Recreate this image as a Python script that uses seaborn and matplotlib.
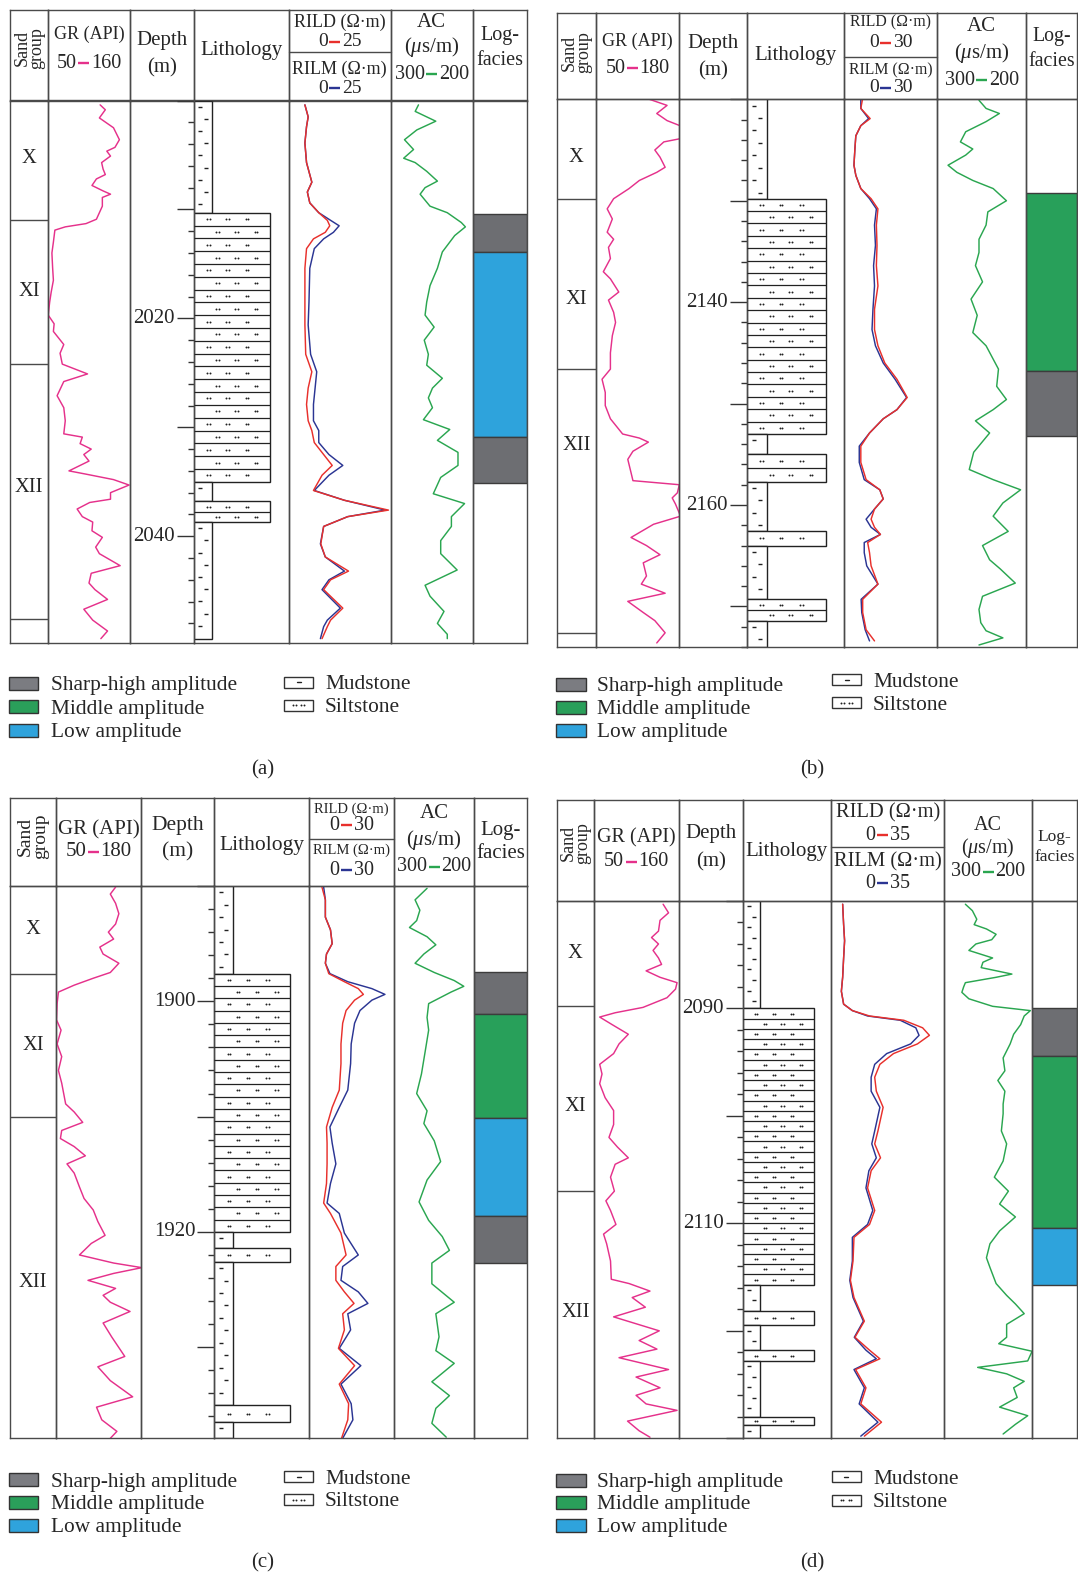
import numpy as np
import pandas as pd
import matplotlib
matplotlib.use("Agg")
import matplotlib.pyplot as plt
from matplotlib.patches import Rectangle
import seaborn as sns

# ============================ DATA ============================
FACIES_NAMES = ["Sharp-high amplitude", "Middle amplitude", "Low amplitude"]
LITH_NAMES = ["Mudstone", "Siltstone"]
SAND_NAMES = ["X", "XI", "XII"]
PANEL_TAGS = ["(a)", "(b)", "(c)", "(d)"]

# ---------- panel (a) ----------
a_depth_range = (2000.0, 2049.8)
a_gr_range = (50, 160)
a_res_range = (0, 25)
a_ac_range = (300, 200)
a_depth_labels = [2020, 2040]
a_sand_bounds = [2011.0, 2024.2, 2047.6]
a_sand_label_depth = [2005.3, 2017.5, 2035.5]
a_lith_top = [2000.0, 2010.3, 2035.0, 2036.8, 2038.7]
a_lith_base = [2010.3, 2035.0, 2036.8, 2038.7, 2049.4]
a_lith_type = ["Mudstone", "Siltstone", "Mudstone", "Siltstone", "Mudstone"]
a_fac_top = [2010.4, 2013.9, 2030.9]
a_fac_base = [2013.9, 2030.9, 2035.1]
a_fac_type = ["Sharp-high amplitude", "Low amplitude", "Sharp-high amplitude"]
a_gr_depth = [2000.4, 2000.85, 2001.6, 2002.5, 2003.6, 2004.3, 2004.65, 2005.1, 2005.7, 2006.3,
              2006.8, 2007.2, 2007.8, 2008.3, 2008.6, 2008.9, 2009.7, 2010.9, 2011.3, 2011.6,
              2011.9, 2013.0, 2014.0, 2015.4, 2016.5, 2017.6, 2018.5, 2019.7, 2020.5, 2021.2,
              2022.4, 2023.2, 2024.2, 2025.1, 2025.8, 2027.1, 2028.2, 2029.4, 2030.6, 2030.9,
              2031.5, 2032.0, 2032.5, 2033.1, 2034.0, 2034.3, 2034.8, 2035.3, 2036.0, 2036.6,
              2036.9, 2037.5, 2038.2, 2038.7, 2039.5, 2040.1, 2041.0, 2041.6, 2042.7, 2043.4,
              2044.3, 2044.9, 2045.8, 2046.7, 2047.7, 2048.7, 2049.4]
a_gr = [120, 127, 119, 138, 146, 140, 129, 134, 122, 124,
        127, 115, 109, 124, 134, 123, 123, 115, 101, 73,
        59, 57, 55, 56, 57, 54, 52, 50, 58, 57,
        71, 66, 69, 103, 71, 62, 71, 73, 71, 96,
        93, 108, 98, 105, 78, 101, 138, 159, 134, 134,
        106, 89, 96, 110, 109, 123, 114, 119, 147, 108,
        105, 113, 130, 98, 110, 130, 121]
a_res_depth = [2000.4, 2001.5, 2002.4, 2003.9, 2005.7, 2007.5, 2008.4, 2009.4, 2010.3, 2011.0,
               2011.5, 2012.1, 2012.7, 2013.6, 2015.4, 2018.5, 2020.6, 2023.3, 2024.9, 2026.4,
               2027.9, 2029.4, 2030.3, 2031.4, 2032.5, 2033.5, 2034.4, 2035.8, 2036.7, 2037.6,
               2038.2, 2039.1, 2040.7, 2041.9, 2043.2, 2044.0, 2044.9, 2046.6, 2047.7, 2048.3, 2049.4]
a_rild = [4.0, 4.8, 4.4, 4.0, 4.4, 5.7, 4.6, 5.2, 7.4, 9.5,
          10.1, 9.0, 6.1, 4.4, 4.0, 4.0, 4.0, 4.2, 5.7, 4.8,
          4.4, 4.8, 5.7, 6.3, 8.6, 10.7, 8.2, 6.1, 13.7, 24.5,
          14.5, 8.6, 7.9, 9.0, 14.7, 10.3, 8.6, 13.3, 10.3, 9.5, 8.2]
a_rilm = [4.0, 4.8, 4.4, 4.0, 4.4, 5.7, 4.6, 5.2, 7.4, 10.3,
          12.4, 11.0, 8.6, 6.3, 5.2, 5.0, 4.8, 5.4, 6.9, 6.5,
          6.1, 6.1, 7.4, 7.4, 9.9, 13.3, 9.9, 6.3, 13.7, 23.7,
          14.5, 8.6, 7.8, 9.0, 13.7, 9.9, 8.2, 12.7, 9.5, 8.6, 7.8]
a_ac_depth = [2000.4, 2001.0, 2001.9, 2002.7, 2003.6, 2004.5, 2005.3, 2005.7, 2006.5, 2007.4,
              2008.0, 2008.6, 2009.7, 2010.3, 2011.2, 2011.6, 2012.4, 2013.9, 2015.4, 2017.0,
              2018.5, 2019.7, 2020.8, 2022.0, 2023.3, 2024.3, 2025.5, 2026.4, 2027.3, 2028.2,
              2029.3, 2030.2, 2031.2, 2032.3, 2033.5, 2034.6, 2036.1, 2037.0, 2038.2, 2039.1,
              2040.4, 2041.6, 2043.1, 2044.5, 2045.5, 2046.9, 2048.0, 2049.0, 2049.4]
a_ac = [266, 270, 245, 268, 283, 272, 284, 270, 256, 243,
        258, 264, 252, 231, 214, 209, 222, 237, 243, 252,
        256, 258, 247, 259, 254, 256, 237, 249, 254, 249,
        260, 228, 243, 218, 218, 239, 248, 210, 226, 226,
        239, 239, 219, 258, 252, 235, 243, 231, 231]

# ---------- panel (b) ----------
b_depth_range = (2120.0, 2174.0)
b_gr_range = (50, 180)
b_res_range = (0, 30)
b_ac_range = (300, 200)
b_depth_labels = [2140, 2160]
b_sand_bounds = [2129.8, 2146.6, 2172.6]
b_sand_label_depth = [2125.7, 2139.7, 2154.1]
b_lith_top = [2120.0, 2129.8, 2153.0, 2155.0, 2157.7, 2162.6, 2164.0, 2169.3, 2171.4]
b_lith_base = [2129.8, 2153.0, 2155.0, 2157.7, 2162.6, 2164.0, 2169.3, 2171.4, 2174.0]
b_lith_type = ["Mudstone", "Siltstone", "Mudstone", "Siltstone", "Mudstone",
               "Siltstone", "Mudstone", "Siltstone", "Mudstone"]
b_fac_top = [2129.2, 2146.8]
b_fac_base = [2146.8, 2153.2]
b_fac_type = ["Middle amplitude", "Sharp-high amplitude"]
b_gr_depth = [2119.9, 2120.6, 2121.4, 2122.1, 2122.6, 2123.2, 2123.9, 2124.2, 2125.0, 2125.7,
              2126.7, 2127.2, 2128.0, 2128.8, 2129.8, 2130.8, 2131.8, 2133.1, 2133.8, 2134.6,
              2135.7, 2137.0, 2137.7, 2139.0, 2139.8, 2141.0, 2142.0, 2143.3, 2145.0, 2146.6,
              2147.6, 2148.9, 2150.2, 2151.5, 2153.0, 2153.4, 2153.8, 2154.7, 2155.5, 2156.8,
              2157.6, 2158.0, 2158.8, 2159.3, 2159.9, 2161.1, 2161.9, 2163.2, 2164.0, 2164.9,
              2165.7, 2167.0, 2167.8, 2168.7, 2169.5, 2170.6, 2171.4, 2172.6, 2173.6]
b_gr = [129, 161, 145, 161, 181, 192, 180, 156, 142, 150,
        158, 145, 118, 102, 78, 68, 76, 68, 78, 70,
        73, 62, 73, 86, 70, 78, 81, 76, 73, 73,
        60, 65, 65, 73, 92, 118, 132, 108, 100, 105,
        108, 180, 177, 169, 174, 182, 140, 105, 129, 150,
        124, 129, 121, 158, 100, 124, 142, 158, 145]
b_res_depth = [2119.9, 2120.9, 2121.9, 2122.6, 2123.6, 2124.9, 2126.5, 2127.5, 2128.8, 2129.8,
               2130.8, 2132.4, 2134.4, 2136.4, 2138.4, 2140.7, 2142.7, 2144.3, 2146.0, 2147.6,
               2149.4, 2150.6, 2151.5, 2152.9, 2154.2, 2155.8, 2157.5, 2158.5, 2159.4, 2160.4,
               2161.4, 2162.2, 2162.9, 2163.7, 2164.7, 2166.0, 2167.8, 2169.3, 2170.6, 2172.3, 2173.4]
b_rild = [6.0, 5.4, 8.4, 5.4, 3.8, 3.5, 3.2, 3.8, 5.4, 8.7,
          10.9, 10.4, 10.6, 10.4, 10.9, 9.8, 9.8, 10.9, 13.1, 17.0,
          20.3, 17.0, 12.6, 8.2, 5.4, 5.4, 7.1, 11.5, 12.6, 9.8,
          8.7, 9.8, 11.7, 7.6, 8.2, 8.7, 10.9, 6.0, 6.0, 7.1, 9.8]
b_rilm = [5.4, 5.4, 7.9, 5.4, 3.8, 3.5, 3.2, 3.8, 5.4, 8.2,
          10.4, 9.8, 10.1, 9.5, 9.8, 9.3, 9.0, 10.1, 12.6, 16.4,
          20.1, 17.0, 12.6, 8.2, 4.9, 4.9, 6.5, 11.5, 12.6, 9.8,
          7.1, 8.7, 11.7, 6.5, 6.5, 7.3, 10.9, 5.5, 5.7, 6.8, 8.2]
b_ac_depth = [2120.1, 2120.9, 2121.4, 2122.2, 2123.2, 2124.2, 2124.9, 2125.5, 2126.5, 2127.2,
              2128.0, 2128.8, 2130.0, 2131.1, 2132.4, 2133.8, 2135.1, 2136.4, 2138.0, 2139.7,
              2141.3, 2143.0, 2144.3, 2146.6, 2148.3, 2149.6, 2150.6, 2151.7, 2152.9, 2154.8,
              2156.5, 2157.5, 2158.5, 2159.8, 2161.1, 2162.6, 2164.0, 2165.4, 2166.3, 2167.7,
              2169.0, 2170.3, 2171.6, 2172.4, 2173.1, 2173.8]
b_ac = [253, 245, 230, 245, 268, 274, 260, 268, 288, 278,
        260, 237, 222, 243, 245, 253, 253, 257, 249, 262,
        255, 260, 245, 231, 233, 222, 237, 257, 241, 259,
        264, 237, 206, 226, 237, 220, 249, 241, 229, 212,
        249, 253, 251, 245, 226, 253]

# ---------- panel (c) ----------
c_depth_range = (1890.0, 1937.9)
c_gr_range = (50, 180)
c_res_range = (0, 30)
c_ac_range = (300, 200)
c_depth_labels = [1900, 1920]
c_sand_bounds = [1897.6, 1910.0]
c_sand_label_depth = [1893.8, 1903.8, 1924.4]
c_lith_top = [1890.0, 1897.6, 1920.0, 1921.4, 1922.6, 1935.0, 1936.5]
c_lith_base = [1897.6, 1920.0, 1921.4, 1922.6, 1935.0, 1936.5, 1937.9]
c_lith_type = ["Mudstone", "Siltstone", "Mudstone", "Siltstone", "Mudstone", "Siltstone", "Mudstone"]
c_fac_top = [1897.5, 1901.1, 1910.1, 1918.6]
c_fac_base = [1901.1, 1910.1, 1918.6, 1922.7]
c_fac_type = ["Sharp-high amplitude", "Middle amplitude", "Low amplitude", "Sharp-high amplitude"]
c_gr_depth = [1890.1, 1890.7, 1891.5, 1892.4, 1893.3, 1894.0, 1894.6, 1895.3, 1895.9, 1896.7,
              1897.5, 1898.0, 1898.6, 1899.2, 1900.2, 1901.6, 1902.5, 1903.7, 1904.8, 1906.0,
              1907.1, 1908.9, 1909.6, 1910.5, 1911.2, 1911.9, 1912.6, 1913.4, 1914.1, 1914.9,
              1916.1, 1917.1, 1918.1, 1919.1, 1920.3, 1921.0, 1922.0, 1922.7, 1923.1, 1923.6,
              1924.2, 1924.9, 1925.5, 1926.1, 1926.9, 1927.9, 1929.1, 1930.8, 1931.7, 1932.9,
              1934.3, 1935.2, 1936.3, 1937.3, 1937.9]
c_gr = [141, 133, 141, 146, 141, 130, 138, 117, 122, 146,
        133, 107, 78, 54, 52, 51, 58, 52, 59, 54,
        59, 65, 78, 91, 59, 57, 78, 95, 67, 78,
        86, 93, 107, 114, 125, 104, 86, 138, 181, 138,
        99, 141, 122, 133, 163, 122, 135, 155, 114, 133,
        167, 112, 120, 143, 133]
c_res_depth = [1890.1, 1891.2, 1892.7, 1893.8, 1895.0, 1895.9, 1896.7, 1897.6, 1898.3, 1898.9,
               1899.4, 1899.9, 1900.8, 1901.9, 1903.7, 1905.4, 1907.7, 1909.2, 1910.9, 1912.3,
               1914.1, 1915.8, 1917.5, 1918.4, 1920.1, 1922.0, 1923.0, 1924.2, 1925.2, 1926.2,
               1927.1, 1928.5, 1930.1, 1931.6, 1933.2, 1934.9, 1936.3, 1937.9]
c_rild = [4.5, 5.7, 5.7, 7.5, 8.1, 6.1, 5.7, 6.9, 12.4, 17.3,
          19.1, 16.0, 13.0, 11.8, 11.2, 11.2, 10.6, 8.1, 6.1, 6.3,
          6.3, 6.1, 5.1, 7.5, 11.2, 13.0, 9.4, 9.4, 12.4, 15.8,
          11.8, 12.4, 10.3, 16.0, 10.6, 13.9, 13.6, 11.4]
c_rilm = [5.1, 5.7, 5.7, 7.5, 8.1, 6.1, 5.7, 7.3, 13.6, 22.1,
          26.7, 22.1, 17.9, 16.0, 14.8, 14.6, 13.6, 10.6, 7.3, 8.1,
          9.4, 7.5, 6.3, 10.6, 12.4, 17.3, 11.8, 11.2, 17.3, 20.7,
          13.6, 14.6, 10.6, 18.2, 11.2, 14.8, 15.4, 11.8]
c_ac_depth = [1890.2, 1891.2, 1892.1, 1893.0, 1893.6, 1894.4, 1895.1, 1895.9, 1896.7, 1897.5,
              1898.2, 1898.7, 1899.2, 1900.2, 1901.4, 1902.5, 1904.2, 1906.3, 1908.0, 1909.5,
              1910.6, 1912.1, 1913.9, 1915.5, 1917.4, 1919.0, 1920.4, 1921.6, 1922.7, 1924.5,
              1926.1, 1927.1, 1929.1, 1930.3, 1931.4, 1933.0, 1934.2, 1935.3, 1936.6, 1937.8]
c_ac = [259, 274, 268, 272, 281, 259, 248, 263, 274, 250,
        225, 213, 229, 257, 259, 257, 261, 266, 272, 259,
        263, 250, 242, 259, 269, 257, 240, 231, 253, 253,
        225, 248, 244, 248, 225, 253, 231, 248, 253, 235]

# ---------- panel (d) ----------
d_depth_range = (2080.0, 2130.0)
d_gr_range = (50, 160)
d_res_range = (0, 35)
d_ac_range = (300, 200)
d_depth_labels = [2090, 2110]
d_sand_bounds = [2089.8, 2107.0]
d_sand_label_depth = [2084.9, 2099.1, 2118.3]
d_lith_top = [2080.0, 2090.0, 2115.7, 2118.2, 2119.5, 2121.8, 2122.8, 2128.0, 2128.8]
d_lith_base = [2090.0, 2115.7, 2118.2, 2119.5, 2121.8, 2122.8, 2128.0, 2128.8, 2130.0]
d_lith_type = ["Mudstone", "Siltstone", "Mudstone", "Siltstone", "Mudstone",
               "Siltstone", "Mudstone", "Siltstone", "Mudstone"]
d_fac_top = [2090.0, 2094.4, 2110.4]
d_fac_base = [2094.4, 2110.4, 2115.7]
d_fac_type = ["Sharp-high amplitude", "Middle amplitude", "Low amplitude"]
d_gr_depth = [2080.3, 2081.1, 2081.8, 2082.8, 2083.4, 2084.0, 2084.6, 2085.3, 2085.9, 2086.5,
              2087.1, 2087.6, 2088.2, 2089.0, 2089.9, 2090.4, 2090.8, 2091.5, 2092.4, 2093.3,
              2094.2, 2095.2, 2096.1, 2097.0, 2098.3, 2099.5, 2100.8, 2102.0, 2102.9, 2103.9,
              2104.5, 2105.7, 2107.0, 2107.9, 2108.8, 2110.1, 2111.0, 2111.9, 2113.5, 2115.2,
              2115.6, 2116.3, 2116.9, 2117.8, 2118.7, 2120.0, 2120.9, 2121.7, 2122.5, 2123.6,
              2124.3, 2125.3, 2126.0, 2126.8, 2127.4, 2128.4, 2129.3, 2129.9]
d_gr = [140, 147, 136, 134, 125, 134, 127, 134, 138, 118,
        136, 158, 156, 145, 114, 78, 58, 74, 95, 83,
        76, 58, 61, 58, 65, 76, 76, 70, 81, 95,
        78, 72, 77, 66, 72, 79, 63, 67, 72, 73,
        96, 123, 100, 117, 76, 135, 109, 132, 83, 147,
        105, 136, 105, 118, 158, 94, 109, 123]
d_res_depth = [2080.3, 2082.2, 2083.7, 2085.3, 2087.1, 2088.4, 2089.6, 2090.2, 2090.7, 2091.1,
               2091.8, 2092.5, 2093.3, 2094.2, 2095.2, 2096.4, 2097.7, 2099.2, 2101.4, 2102.6,
               2103.9, 2105.1, 2106.7, 2108.8, 2110.1, 2111.3, 2113.5, 2115.3, 2116.9, 2119.1,
               2120.6, 2121.8, 2122.6, 2123.6, 2125.3, 2126.8, 2128.5, 2129.8]
d_rild = [3.6, 3.9, 4.2, 3.9, 3.6, 3.2, 3.9, 6.6, 11.9, 22.5,
          28.3, 30.4, 26.7, 19.3, 15.1, 13.5, 14.0, 16.1, 14.5, 13.5,
          15.3, 12.4, 11.3, 13.5, 11.9, 7.1, 6.8, 6.0, 7.1, 10.3,
          7.4, 11.9, 15.1, 7.6, 10.8, 9.2, 15.6, 10.3]
d_rilm = [3.6, 3.9, 4.2, 3.9, 3.6, 3.2, 3.9, 6.6, 11.3, 21.4,
          26.2, 27.2, 24.6, 17.2, 13.5, 12.4, 12.4, 15.1, 13.5, 12.6,
          14.0, 11.7, 10.8, 12.9, 11.3, 6.6, 6.6, 5.8, 6.8, 10.0,
          7.2, 10.8, 14.0, 7.1, 10.3, 8.7, 14.5, 9.2]
d_ac_depth = [2080.3, 2080.9, 2081.7, 2082.2, 2082.6, 2083.1, 2083.6, 2084.0, 2084.6, 2085.3,
              2085.7, 2086.2, 2086.8, 2087.1, 2087.6, 2088.0, 2088.5, 2089.1, 2089.8, 2090.2,
              2090.7, 2091.5, 2092.4, 2093.3, 2094.6, 2095.8, 2096.7, 2097.7, 2098.9, 2099.8,
              2101.4, 2102.6, 2104.2, 2105.7, 2107.0, 2108.2, 2109.4, 2110.7, 2111.9, 2113.2,
              2114.1, 2115.6, 2116.7, 2117.5, 2118.4, 2119.4, 2120.6, 2121.2, 2121.9, 2122.8,
              2123.4, 2124.0, 2124.7, 2125.3, 2126.2, 2127.1, 2127.9, 2128.7, 2129.6]
d_ac = [276, 268, 263, 266, 252, 241, 246, 264, 272, 245,
        256, 258, 223, 241, 276, 278, 280, 272, 245, 202,
        209, 213, 221, 225, 233, 231, 239, 231, 233, 233,
        235, 229, 233, 243, 227, 237, 219, 237, 248, 252,
        248, 241, 229, 219, 209, 229, 229, 238, 200, 205,
        262, 229, 209, 221, 217, 237, 205, 219, 233]

# ============================ STYLE ============================
sns.set_style("white")
plt.rcParams['font.family'] = ['Liberation Serif', 'DejaVu Serif']
plt.rcParams['mathtext.fontset'] = 'custom'
plt.rcParams['mathtext.rm'] = 'Liberation Serif'
plt.rcParams['mathtext.it'] = 'Liberation Serif:italic'

C_GR = '#e5318b'
C_RILD = '#e8302c'
C_RILM = '#2b3593'
C_AC = '#2aa650'
FAC_COL = {"Sharp-high amplitude": '#6d6e72', "Middle amplitude": '#28a05a', "Low amplitude": '#2ea3dc'}
LEG_COL = {"Sharp-high amplitude": '#7b7c81', "Middle amplitude": '#2a9f5a', "Low amplitude": '#2fa3dc'}
FRAME = '#4a4a4a'
INK = '#222222'
LW = 1.0
CURVE_LW = 1.05
LEG_FS = 15.4

W, H = 1078, 1576
fig = plt.figure(figsize=(W / 100, H / 100), dpi=100)
fig.patch.set_facecolor('white')
ov = fig.add_axes([0, 0, 1, 1], zorder=10)
ov.set_xlim(0, W); ov.set_ylim(H, 0); ov.axis('off')
ov.patch.set_visible(False)


def px_axes(x0, y0, x1, y1):
    return fig.add_axes([x0 / W, 1 - y1 / H, (x1 - x0) / W, (y1 - y0) / H])


def frame(ax):
    ax.set_xticks([]); ax.set_yticks([])
    ax.set_facecolor('none')
    for s in ax.spines.values():
        s.set_visible(True); s.set_color(FRAME); s.set_linewidth(LW)


def rng(x, y, lo, hi, col, fs):
    dw = 0.5 * fs * 100 / 72
    xc = x - (len(hi) - len(lo)) * dw / 2
    ov.text(xc - 7, y, lo, ha='right', va='center', fontsize=fs)
    ov.plot([xc - 5.5, xc + 5.5], [y, y], color=col, lw=1.7, solid_capstyle='butt')
    ov.text(xc + 7, y, hi, ha='left', va='center', fontsize=fs)


LAYOUTS = {
    'a': dict(cols=[10.3, 48.2, 129.8, 193.9, 288.6, 390.5, 472.8, 526.9], top=9.5, hdr=100.5, bot=643, div=51.7,
              mud_w=0.196, silt_w=0.80, row_h=1.2, mud_step=1.12,
              h=dict(sand=(48, 13), gr=(34.3, 13), grr=(63.3, 14.5), dep=(40.7, 68.3, 15), lith=(50, 15),
                     rild=(22.3, 13), r1=(41.7, 14), rilm=(69.3, 13), r2=(88.3, 14),
                     ac=(22.7, 46.7, 15), acr=(74, 14.5), fac=(35, 60, 14.5)),
              leg=dict(fx=8.6, fys=[683.3, 706.7, 730], ftx=51, lx=284, lys=[682, 705], ltx=325, cap=(263, 770))),
    'b': dict(cols=[557.2, 595.6, 679.3, 746.9, 844.0, 937.4, 1025.9, 1077], top=12.7, hdr=99.3, bot=647, div=56.7,
              mud_w=0.209, silt_w=0.81, row_h=1.23, mud_step=1.23,
              h=dict(sand=(52.5, 13), gr=(41.7, 13), grr=(68.3, 14.5), dep=(43.3, 71, 15), lith=(55, 15),
                     rild=(22.7, 11.3), r1=(42.7, 14), rilm=(70, 11.3), r2=(87.7, 14),
                     ac=(26.7, 53.3, 15), acr=(80, 14.5), fac=(36.7, 61.7, 14.3)),
              leg=dict(fx=556.3, fys=[684, 707, 730], ftx=597, lx=832, lys=[679.5, 702.5], ltx=873, cap=(811.8, 769.5))),
    'c': dict(cols=[10.3, 55.8, 141.2, 214.2, 309.2, 394.3, 474.2, 526.9], top=798.3, hdr=886, bot=1438.3, div=839.3,
              mud_w=0.196, silt_w=0.80, row_h=1.08, mud_step=1.08,
              h=dict(sand=(836, 14), gr=(830, 15), grr=(851.7, 15), dep=(825, 851.7, 15.5), lith=(845, 15.5),
                     rild=(809, 10.5), r1=(825, 14.5), rilm=(850, 10.5), r2=(870, 14.5),
                     ac=(813.3, 840, 15), acr=(866.7, 14.5), fac=(830, 853.3, 15)),
              leg=dict(fx=8.6, fys=[1479.5, 1502.3, 1525], ftx=51, lx=284, lys=[1476.5, 1499.5], ltx=325,
                       cap=(263, 1563))),
    'd': dict(cols=[557.2, 593.5, 678.6, 742.8, 831.0, 944.3, 1032.1, 1077], top=800, hdr=901, bot=1438.3, div=846.7,
              mud_w=0.195, silt_w=0.805, row_h=0.96, mud_step=0.98,
              h=dict(sand=(843, 13), gr=(838.3, 14.5), grr=(861.7, 14.5), dep=(833.3, 861.7, 15), lith=(851.7, 15),
                     rild=(813.3, 14.8), r1=(835, 14.5), rilm=(861.7, 14.8), r2=(883.3, 14.5),
                     ac=(825, 848.3, 14.5), acr=(871.7, 14.5), fac=(836.7, 856.7, 12.5)),
              leg=dict(fx=556.3, fys=[1480, 1502.3, 1525], ftx=597.3, lx=831.7, lys=[1476.7, 1500], ltx=873,
                       cap=(811.8, 1563.3))),
}

PANELS = {
    'a': dict(depth_range=a_depth_range, gr_range=a_gr_range, res_range=a_res_range, ac_range=a_ac_range,
              depth_labels=a_depth_labels, sand_bounds=a_sand_bounds, sand_label_depth=a_sand_label_depth,
              lith=(a_lith_top, a_lith_base, a_lith_type), fac=(a_fac_top, a_fac_base, a_fac_type),
              gr=(a_gr_depth, a_gr), res=(a_res_depth, a_rild, a_rilm), ac=(a_ac_depth, a_ac), tag=PANEL_TAGS[0]),
    'b': dict(depth_range=b_depth_range, gr_range=b_gr_range, res_range=b_res_range, ac_range=b_ac_range,
              depth_labels=b_depth_labels, sand_bounds=b_sand_bounds, sand_label_depth=b_sand_label_depth,
              lith=(b_lith_top, b_lith_base, b_lith_type), fac=(b_fac_top, b_fac_base, b_fac_type),
              gr=(b_gr_depth, b_gr), res=(b_res_depth, b_rild, b_rilm), ac=(b_ac_depth, b_ac), tag=PANEL_TAGS[1]),
    'c': dict(depth_range=c_depth_range, gr_range=c_gr_range, res_range=c_res_range, ac_range=c_ac_range,
              depth_labels=c_depth_labels, sand_bounds=c_sand_bounds, sand_label_depth=c_sand_label_depth,
              lith=(c_lith_top, c_lith_base, c_lith_type), fac=(c_fac_top, c_fac_base, c_fac_type),
              gr=(c_gr_depth, c_gr), res=(c_res_depth, c_rild, c_rilm), ac=(c_ac_depth, c_ac), tag=PANEL_TAGS[2]),
    'd': dict(depth_range=d_depth_range, gr_range=d_gr_range, res_range=d_res_range, ac_range=d_ac_range,
              depth_labels=d_depth_labels, sand_bounds=d_sand_bounds, sand_label_depth=d_sand_label_depth,
              lith=(d_lith_top, d_lith_base, d_lith_type), fac=(d_fac_top, d_fac_base, d_fac_type),
              gr=(d_gr_depth, d_gr), res=(d_res_depth, d_rild, d_rilm), ac=(d_ac_depth, d_ac), tag=PANEL_TAGS[3]),
}

DOT_X = [0.153, 0.353, 0.56]
DOT_SHIFT = 0.098


def curve(ax, vals, depths, color):
    sns.lineplot(x=vals, y=depths, sort=False, estimator=None, color=color,
                 lw=CURVE_LW, ax=ax, legend=False, solid_joinstyle='round', solid_capstyle='round')


def draw_panel(L, P):
    c = L['cols']; top, hdr, bot = L['top'], L['hdr'], L['bot']
    d0, d1 = P['depth_range']
    for i in range(7):
        frame(px_axes(c[i], top, c[i + 1], hdr))
    ov.plot([c[4], c[5]], [L['div'], L['div']], color=FRAME, lw=LW)
    body = []
    for i in range(7):
        ax = px_axes(c[i], hdr, c[i + 1], bot); frame(ax); body.append(ax)
    sa, ga, da, la, ra, aa, fa = body

    # sand group
    for b in P['sand_bounds']:
        sa.axhline(b, color=FRAME, lw=LW)
    for name, dd in zip(SAND_NAMES, P['sand_label_depth']):
        sa.text(0.5, dd, name, ha='center', va='center', fontsize=14.8)

    # curves
    curve(ga, P['gr'][1], P['gr'][0], C_GR)
    ga.set_xlim(*P['gr_range'])
    curve(ra, P['res'][2], P['res'][0], C_RILM)
    curve(ra, P['res'][1], P['res'][0], C_RILD)
    ra.set_xlim(*P['res_range'])
    curve(aa, P['ac'][1], P['ac'][0], C_AC)
    aa.set_xlim(*P['ac_range'])

    # lithology
    for t, b, kind in zip(*P['lith']):
        w = L['mud_w'] if kind == "Mudstone" else L['silt_w']
        la.barh((t + b) / 2, w, height=b - t, left=0, color='white', edgecolor=INK, linewidth=LW, zorder=2)
        if kind == "Siltstone":
            n = max(1, int(round((b - t) / L['row_h'])))
            edges = np.linspace(t, b, n + 1)
            if n > 1:
                la.hlines(edges[1:-1], 0, w, color=INK, lw=0.9, zorder=3)
            for k in range(n):
                yc = (edges[k] + edges[k + 1]) / 2
                off = 0 if k % 2 == 0 else DOT_SHIFT
                xs = []
                for x in DOT_X:
                    xs += [x + off - 0.013, x + off + 0.013]
                la.plot(xs, [yc] * len(xs), ls='none', marker='o', ms=1.4, color=INK, mew=0, zorder=4)
        else:
            ys = np.arange(t + L['mud_step'] * 0.5, b - L['mud_step'] * 0.2, L['mud_step'])
            xs = [w * (0.34 if k % 2 == 0 else 0.63) for k in range(len(ys))]
            la.plot(xs, ys, ls='none', marker='_', ms=3.5, mew=1.0, color=INK, zorder=4)

    # log facies
    for t, b, kind in zip(*P['fac']):
        fa.barh((t + b) / 2, 1, height=b - t, left=0, color=FAC_COL[kind], edgecolor='#3c3c3c', linewidth=LW)

    for ax in body:
        ax.set_ylim(d1, d0)
        ax.set_xlabel(''); ax.set_ylabel('')
    for ax in (sa, da, la, fa):
        ax.set_xlim(0, 1)

    # depth ticks
    majors = list(range(int(np.ceil(d0 / 10)) * 10, int(d1) + 1, 10))
    minors = np.arange(np.ceil(d0 / 2) * 2, d1 + 0.01, 2)
    da.set_yticks(majors); da.set_yticks(minors, minor=True)
    da.yaxis.set_ticks_position('right')
    da.tick_params(axis='y', which='major', direction='in', length=12.5, width=1.0, color='#333333',
                   labelright=False, labelleft=False, right=True, left=False)
    da.tick_params(axis='y', which='minor', direction='in', length=4.5, width=1.0, color='#333333',
                   right=True, left=False)
    colw = c[3] - c[2]
    for v in P['depth_labels']:
        da.text(1 - 19 / colw, v, str(v), transform=da.get_yaxis_transform(), ha='right', va='center',
                fontsize=15)

    # headers
    h = L['h']; cx = [(c[i] + c[i + 1]) / 2 for i in range(7)]
    y, fs = h['sand']
    ov.text(cx[0], y, 'Sand\ngroup', rotation=90, ha='center', va='center', fontsize=fs, linespacing=0.82)
    y, fs = h['gr']; ov.text(cx[1], y, 'GR (API)', ha='center', va='center', fontsize=fs)
    y, fs = h['grr']; rng(cx[1], y, str(P['gr_range'][0]), str(P['gr_range'][1]), C_GR, fs)
    y1, y2, fs = h['dep']
    ov.text(cx[2], y1, 'Depth', ha='center', va='center', fontsize=fs)
    ov.text(cx[2], y2, '(m)', ha='center', va='center', fontsize=fs)
    y, fs = h['lith']; ov.text(cx[3], y, 'Lithology', ha='center', va='center', fontsize=fs)
    y, fs = h['rild']; ov.text(cx[4], y, 'RILD (Ω·m)', ha='center', va='center', fontsize=fs)
    y, fs = h['r1']; rng(cx[4], y, str(P['res_range'][0]), str(P['res_range'][1]), C_RILD, fs)
    y, fs = h['rilm']; ov.text(cx[4], y, 'RILM (Ω·m)', ha='center', va='center', fontsize=fs)
    y, fs = h['r2']; rng(cx[4], y, str(P['res_range'][0]), str(P['res_range'][1]), C_RILM, fs)
    y1, y2, fs = h['ac']
    ov.text(cx[5], y1, 'AC', ha='center', va='center', fontsize=fs)
    ov.text(cx[5], y2, r'($\mu$s/m)', ha='center', va='center', fontsize=fs)
    y, fs = h['acr']; rng(cx[5], y, str(P['ac_range'][0]), str(P['ac_range'][1]), C_AC, fs)
    y1, y2, fs = h['fac']
    ov.text(cx[6], y1, 'Log-', ha='center', va='center', fontsize=fs)
    ov.text(cx[6], y2, 'facies', ha='center', va='center', fontsize=fs)

    # legend
    g = L['leg']
    for name, y in zip(FACIES_NAMES, g['fys']):
        ov.add_patch(Rectangle((g['fx'], y - 6.5), 29.3, 13, facecolor=LEG_COL[name], edgecolor='#333333', lw=1.0))
        ov.text(g['ftx'], y, name, ha='left', va='center_baseline', fontsize=LEG_FS)
    for name, y in zip(LITH_NAMES, g['lys']):
        x0 = g['lx']
        ov.add_patch(Rectangle((x0, y - 5.5), 29, 11, facecolor='white', edgecolor='#333333', lw=1.0))
        if name == "Mudstone":
            ov.plot([x0 + 12.5, x0 + 16.5], [y, y], color=INK, lw=1.0)
        else:
            ov.plot([x0 + 9, x0 + 11.5, x0 + 17, x0 + 19.5], [y, y, y, y], ls='none', marker='o', ms=1.4,
                    mew=0, color=INK)
        ov.text(g['ltx'], y, name, ha='left', va='center_baseline', fontsize=LEG_FS)
    ov.text(g['cap'][0], g['cap'][1], P['tag'], ha='center', va='center', fontsize=15)


for key in ['a', 'b', 'c', 'd']:
    draw_panel(LAYOUTS[key], PANELS[key])

fig.savefig('out.png', dpi=100, facecolor='white')
